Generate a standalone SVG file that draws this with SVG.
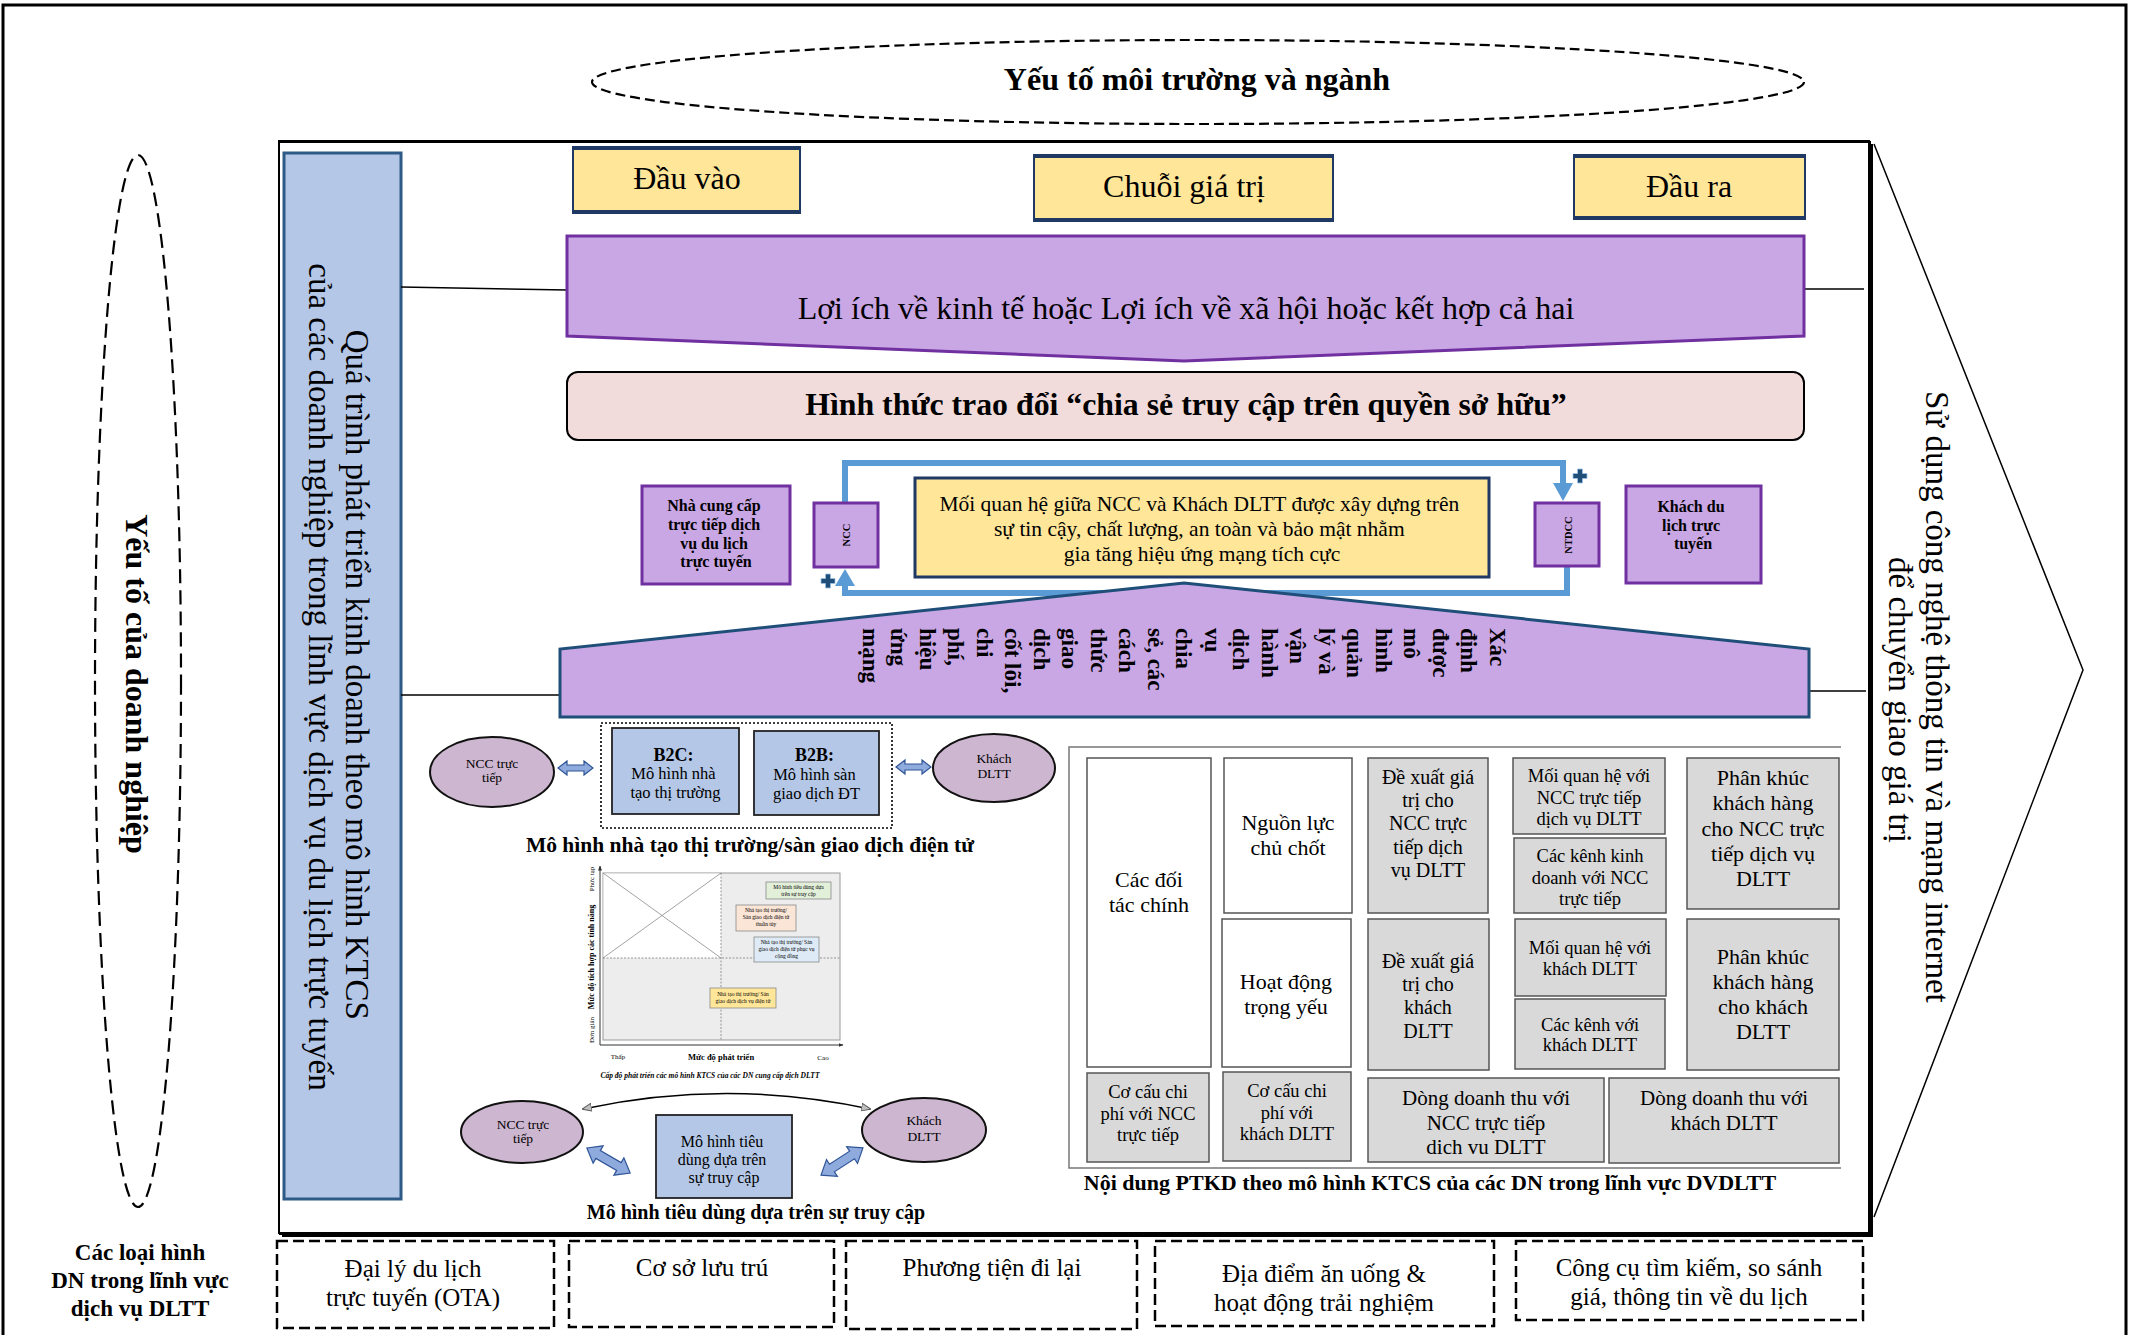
<svg xmlns="http://www.w3.org/2000/svg" width="2134" height="1335" viewBox="0 0 2134 1335">
  <style>
    text { font-family: "Liberation Serif", "Times New Roman", serif; fill: #000; }
    .b { font-weight: bold; }
    .mid { text-anchor: middle; }
    .ybox { fill: #FFE699; stroke: #1F3864; stroke-width: 2; }
    .purple { fill: #C9A6E4; stroke: #7030A0; stroke-width: 3; }
    .blue { fill: #B4C7E7; stroke: #222; stroke-width: 1.8; }
    .mauve { fill: #CDB6CF; stroke: #111; stroke-width: 2; }
    .cellW { fill: #FFFFFF; stroke: #555; stroke-width: 1.5; }
    .cellG { fill: #D9D9D9; stroke: #555; stroke-width: 1.5; }
    .dash { fill: none; stroke: #000; stroke-width: 2.5; stroke-dasharray: 11 5; }
    .loop { fill: none; stroke: #5B9BD5; stroke-width: 6; }
    .arrowFill { fill: #5B9BD5; }
    .dbl { fill: #8FAADC; stroke: #2F5597; stroke-width: 1.2; }
    .plus { fill: #1F4E79; stroke: #9DC3E6; stroke-width: 0.8; }
    .thin { fill: none; stroke: #000; stroke-width: 1.5; }
    .tiny { font-size: 5.5px; }
  </style>
  <defs>
    <path id="dblH" d="M-17.5,0 L-8.5,-7 L-8.5,-3 L8.5,-3 L8.5,-7 L17.5,0 L8.5,7 L8.5,3 L-8.5,3 L-8.5,7 Z"/>
    <path id="dblD" d="M-25,0 L-12,-10 L-12,-4.5 L12,-4.5 L12,-10 L25,0 L12,10 L12,4.5 L-12,4.5 L-12,10 Z"/>
    <path id="plusSign" d="M-2.5,-7 h5 v4.5 h4.5 v5 h-4.5 v4.5 h-5 v-4.5 h-4.5 v-5 h4.5 z"/>
    <marker id="tip" viewBox="0 0 10 10" refX="9" refY="5" markerWidth="6" markerHeight="6" orient="auto-start-reverse">
      <path d="M0,1 L10,5 L0,9 Z" fill="#BFBFBF" stroke="#555" stroke-width="1"/>
    </marker>
    <marker id="axisTip" viewBox="0 0 10 10" refX="9" refY="5" markerWidth="5" markerHeight="5" orient="auto">
      <path d="M0,1 L10,5 L0,9 Z" fill="#333"/>
    </marker>
  </defs>

  <!-- page border -->
  <rect x="3" y="5" width="2123" height="1345" fill="#fff" stroke="#000" stroke-width="3"/>

  <!-- environment factor -->
  <g id="env">
    <ellipse cx="1198" cy="82" rx="606" ry="42" fill="none" stroke="#000" stroke-width="2.2" stroke-dasharray="10 5"/>
    <text x="1197" y="90" class="b mid" font-size="32">Yếu tố môi trường và ngành</text>
  </g>

  <!-- enterprise factor -->
  <g id="firm">
    <ellipse cx="138" cy="681" rx="43" ry="526" fill="none" stroke="#000" stroke-width="2.2" stroke-dasharray="14 7"/>
    <text transform="rotate(90)" class="b mid" font-size="32"><tspan x="684" y="-126">Yếu tố của doanh nghiệp</tspan></text>
  </g>

  <!-- main frame with shadow edge -->
  <g id="frame">
    <rect x="279" y="141" width="1590" height="1092" fill="#fff" stroke="#000" stroke-width="2"/>
    <path d="M279,142 H1870 V1234 H279" fill="none" stroke="#000" stroke-width="2"/>
    <path d="M1872,144 V1236 H282" fill="none" stroke="#000" stroke-width="2"/>
  </g>

  <!-- right chevron: ICT -->
  <g id="ict">
    <polyline points="1874,144 2083,670 1874,1217" class="thin"/>
    <text transform="rotate(90)" class="mid" font-size="33">
      <tspan x="701" y="-1926">Sử dụng công nghệ thông tin và mạng internet</tspan>
      <tspan x="700" y="-1889">để chuyển giao giá trị</tspan>
    </text>
  </g>

  <!-- left process bar -->
  <g id="process">
    <rect x="284" y="153" width="117" height="1046" fill="#B4C7E7" stroke="#2E5A88" stroke-width="3"/>
    <text transform="rotate(90)" class="mid" font-size="33">
      <tspan x="679" y="-346">Quá trình phát triển kinh doanh theo mô hình KTCS</tspan>
      <tspan x="677" y="-309">của các doanh nghiệp trong lĩnh vực dịch vụ du lịch trực tuyến</tspan>
    </text>
  </g>

  <!-- connectors -->
  <g id="connectors">
    <path d="M401,287 L567,290" class="thin"/>
    <path d="M1804,289 H1864" class="thin"/>
    <path d="M401,695 H560" class="thin"/>
    <path d="M1809,691 H1866" class="thin"/>
    <!-- positive network loop -->
    <path d="M845,503 V463 H1563 V484" class="loop"/>
    <polygon points="1553,483 1573,483 1563,501" class="arrowFill"/>
    <path d="M1567,567 V593 H845 V584" class="loop"/>
    <polygon points="835,586 855,586 845,569" class="arrowFill"/>
    <!-- consumption model links -->
    <path d="M583,1109 Q727,1078 870,1109" fill="none" stroke="#000" stroke-width="1.6" marker-start="url(#tip)" marker-end="url(#tip)"/>
    <use href="#dblH" x="575.5" y="768" class="dbl"/>
    <use href="#dblH" x="913.5" y="767" class="dbl"/>
    <use href="#dblD" transform="translate(608.5,1160.5) rotate(30)" class="dbl"/>
    <use href="#dblD" transform="translate(842,1161.5) rotate(-33)" class="dbl"/>
  </g>
  <use href="#plusSign" x="1580" y="476" class="plus"/>
  <use href="#plusSign" x="828" y="581" class="plus"/>

  <!-- top headers -->
  <g id="input">
    <rect x="573" y="147" width="227" height="66" class="ybox"/>
    <path d="M573,148 H800 M573,212 H800" stroke="#1F3864" stroke-width="4"/>
    <text x="687" y="189" class="mid" font-size="32">Đầu vào</text>
  </g>
  <g id="chain">
    <rect x="1034" y="155" width="299" height="66" class="ybox"/>
    <path d="M1034,156 H1333 M1034,220 H1333" stroke="#1F3864" stroke-width="4"/>
    <text x="1184" y="197" class="mid" font-size="32">Chuỗi giá trị</text>
  </g>
  <g id="output">
    <rect x="1574" y="155" width="231" height="64" class="ybox"/>
    <path d="M1574,156 H1805 M1574,218 H1805" stroke="#1F3864" stroke-width="4"/>
    <text x="1689" y="197" class="mid" font-size="32">Đầu ra</text>
  </g>

  <!-- benefit banner -->
  <g id="benefit">
    <polygon points="567,236 1804,236 1804,336 1184,361 567,336" class="purple"/>
    <text x="1186" y="319" class="mid" font-size="32">Lợi ích về kinh tế hoặc Lợi ích về xã hội hoặc kết hợp cả hai</text>
  </g>

  <!-- exchange form -->
  <g id="exchange">
    <rect x="567" y="372" width="1237" height="68" rx="11" fill="#F2DCDB" stroke="#000" stroke-width="2"/>
    <text x="1186" y="415" class="b mid" font-size="31.8">Hình thức trao đổi “chia sẻ truy cập trên quyền sở hữu”</text>
  </g>

  <!-- supplier / customer relation -->
  <g id="supplier">
    <rect x="642" y="486" width="148" height="98" class="purple"/>
    <text class="b mid" font-size="16">
      <tspan x="716" y="511">Nhà cung cấp</tspan>
      <tspan x="716" y="530">trực tiếp dịch</tspan>
      <tspan x="716" y="549">vụ du lịch</tspan>
      <tspan x="716" y="567">trực tuyến</tspan>
    </text>
  </g>
  <g id="ncc">
    <rect x="814" y="503" width="64" height="64" class="purple" stroke-width="2.5"/>
    <text transform="translate(849.5,535) rotate(-90)" class="b mid" font-size="10.5">NCC</text>
  </g>
  <g id="relation">
    <rect x="915" y="478" width="574" height="99" fill="#FFE699" stroke="#1F3864" stroke-width="3"/>
    <text class="mid" font-size="21.5">
      <tspan x="1202" y="511">Mối quan hệ giữa NCC và Khách DLTT được xây dựng trên</tspan>
      <tspan x="1202" y="536">sự tin cậy, chất lượng, an toàn và bảo mật nhằm</tspan>
      <tspan x="1202" y="561">gia tăng hiệu ứng mạng tích cực</tspan>
    </text>
  </g>
  <g id="ntdcc">
    <rect x="1535" y="503" width="64" height="63" class="purple" stroke-width="2.5"/>
    <text transform="translate(1571.5,535) rotate(-90)" class="b mid" font-size="10.5">NTDCC</text>
  </g>
  <g id="customer">
    <rect x="1626" y="486" width="135" height="97" class="purple"/>
    <text class="b mid" font-size="16">
      <tspan x="1693" y="512">Khách du</tspan>
      <tspan x="1693" y="531">lịch trực</tspan>
      <tspan x="1693" y="549">tuyến</tspan>
    </text>
  </g>

  <!-- core definition pentagon -->
  <g id="definition">
    <polygon points="1184,583 1809,649 1809,717 560,717 560,649" fill="#C9A6E4" stroke="#1F4E79" stroke-width="3"/>
    <text transform="rotate(90)" class="b" font-size="23">
      <tspan x="628" y="-1490">Xác</tspan>
      <tspan x="628" y="-1461">định</tspan>
      <tspan x="628" y="-1433">được</tspan>
      <tspan x="628" y="-1404">mô</tspan>
      <tspan x="628" y="-1376">hình</tspan>
      <tspan x="628" y="-1347">quản</tspan>
      <tspan x="628" y="-1319">lý và</tspan>
      <tspan x="628" y="-1290">vận</tspan>
      <tspan x="628" y="-1262">hành</tspan>
      <tspan x="628" y="-1233">dịch</tspan>
      <tspan x="628" y="-1205">vụ</tspan>
      <tspan x="628" y="-1176">chia</tspan>
      <tspan x="628" y="-1148">sẻ, các</tspan>
      <tspan x="628" y="-1119">cách</tspan>
      <tspan x="628" y="-1091">thức</tspan>
      <tspan x="628" y="-1062">giao</tspan>
      <tspan x="628" y="-1034">dịch</tspan>
      <tspan x="628" y="-1005">cốt lõi,</tspan>
      <tspan x="628" y="-977">chi</tspan>
      <tspan x="628" y="-948">phí,</tspan>
      <tspan x="628" y="-920">hiệu</tspan>
      <tspan x="628" y="-891">ứng</tspan>
      <tspan x="628" y="-863">mạng</tspan>
    </text>
  </g>

  <!-- marketplace model -->
  <g id="ncc-direct-1">
    <ellipse cx="492" cy="772" rx="62" ry="35" class="mauve"/>
    <text class="mid" font-size="13.5"><tspan x="492" y="768">NCC trực</tspan><tspan x="492" y="782">tiếp</tspan></text>
  </g>
  <rect x="601" y="723" width="291" height="105" fill="none" stroke="#000" stroke-width="1.6" stroke-dasharray="2 2"/>
  <g id="b2c">
    <rect x="612" y="728" width="127" height="86" class="blue"/>
    <text class="mid" font-size="16.5">
      <tspan x="675.5" y="761" class="b" font-size="18">B2C:</tspan>
      <tspan x="675.5" y="779">Mô hình nhà</tspan>
      <tspan x="675.5" y="798">tạo thị trường</tspan>
    </text>
  </g>
  <g id="b2b">
    <rect x="754" y="731" width="125" height="84" class="blue"/>
    <text class="mid" font-size="16.5">
      <tspan x="816.5" y="761" class="b" font-size="18">B2B:</tspan>
      <tspan x="816.5" y="780">Mô hình sàn</tspan>
      <tspan x="816.5" y="799">giao dịch ĐT</tspan>
    </text>
  </g>
  <g id="guest-1">
    <ellipse cx="994" cy="768" rx="61" ry="34" class="mauve"/>
    <text class="mid" font-size="13.5"><tspan x="994" y="763">Khách</tspan><tspan x="994" y="778">DLTT</tspan></text>
  </g>
  <text x="750" y="852" class="b mid" font-size="21.5">Mô hình nhà tạo thị trường/sàn giao dịch điện tử</text>

  <!-- development level chart -->
  <g id="chart">
    <rect x="603" y="873" width="237" height="167" fill="#EDEDED" stroke="#9A9A9A" stroke-width="1"/>
    <rect x="603.5" y="873.5" width="117.5" height="84.5" fill="#FFFFFF"/>
    <path d="M721,873 V1040 M603,958 H840" stroke="#8A8A8A" stroke-width="0.9" stroke-dasharray="2 1.5"/>
    <path d="M603,873 L721,958 M603,958 L721,873" stroke="#8A8A8A" stroke-width="0.8"/>
    <path d="M600,1045 V866" stroke="#333" stroke-width="1" marker-end="url(#axisTip)"/>
    <path d="M600,1045 H843" stroke="#333" stroke-width="1" marker-end="url(#axisTip)"/>
    <rect x="766" y="882" width="65" height="17" fill="#E2EFD9" stroke="#8A8A8A" stroke-width="0.8"/>
    <text class="mid tiny"><tspan x="798.5" y="889">Mô hình tiêu dùng dựa</tspan><tspan x="798.5" y="895.5">trên sự truy cập</tspan></text>
    <rect x="736" y="905" width="60" height="26" fill="#FBE5D6" stroke="#8A8A8A" stroke-width="0.8"/>
    <text class="mid tiny"><tspan x="766" y="912">Nhà tạo thị trường/</tspan><tspan x="766" y="919">Sàn giao dịch điện tử</tspan><tspan x="766" y="926">thuần túy</tspan></text>
    <rect x="754" y="937" width="65" height="25" fill="#DEEBF7" stroke="#8A8A8A" stroke-width="0.8"/>
    <text class="mid tiny"><tspan x="786.5" y="944">Nhà tạo thị trường/ Sàn</tspan><tspan x="786.5" y="951">giao dịch điện tử phục vụ</tspan><tspan x="786.5" y="958">cộng đồng</tspan></text>
    <rect x="710" y="988" width="66" height="20" fill="#FFE699" stroke="#8A8A8A" stroke-width="0.8"/>
    <text class="mid tiny"><tspan x="743" y="996">Nhà tạo thị trường/ Sàn</tspan><tspan x="743" y="1003">giao dịch dịch vụ điện tử</tspan></text>
    <text transform="rotate(-90)" class="mid" font-size="7"><tspan x="-879" y="594">Phức tạp</tspan><tspan x="-1030" y="594">Đơn giản</tspan></text>
    <text transform="rotate(-90)" class="b mid" font-size="8"><tspan x="-957" y="594">Mức độ tích hợp các tính năng</tspan></text>
    <text x="618" y="1059" class="mid" font-size="7">Thấp</text>
    <text x="721" y="1060" class="b mid" font-size="8.5">Mức độ phát triển</text>
    <text x="823" y="1060" class="mid" font-size="7">Cao</text>
    <text x="710" y="1078" class="b mid" font-size="7.5" font-style="italic">Cấp độ phát triển các mô hình KTCS của các DN cung cấp dịch DLTT</text>
  </g>

  <!-- access-based consumption model -->
  <g id="ncc-direct-2">
    <ellipse cx="522" cy="1132" rx="61" ry="31" class="mauve"/>
    <text class="mid" font-size="13.5"><tspan x="523" y="1129">NCC trực</tspan><tspan x="523" y="1143">tiếp</tspan></text>
  </g>
  <g id="access">
    <rect x="656" y="1115" width="136" height="83" class="blue"/>
    <text class="mid" font-size="16">
      <tspan x="724" y="1147">Mô hình tiêu</tspan>
      <tspan x="724" y="1165">dùng dựa trên</tspan>
      <tspan x="724" y="1183">sự truy cập</tspan>
    </text>
  </g>
  <g id="guest-2">
    <ellipse cx="924" cy="1130" rx="62" ry="32" class="mauve"/>
    <text class="mid" font-size="13.5"><tspan x="924" y="1125">Khách</tspan><tspan x="924" y="1141">DLTT</tspan></text>
  </g>
  <text x="756" y="1219" class="b mid" font-size="20">Mô hình tiêu dùng dựa trên sự truy cập</text>

  <!-- business model canvas -->
  <g id="canvas">
    <path d="M1841,747 H1069 V1168 H1841" fill="none" stroke="#777" stroke-width="1.5"/>
    <g id="partners">
      <rect x="1087" y="758" width="124" height="309" class="cellW"/>
      <text class="mid" font-size="22"><tspan x="1149" y="887">Các đối</tspan><tspan x="1149" y="912">tác chính</tspan></text>
    </g>
    <g id="resources">
      <rect x="1224" y="758" width="128" height="155" class="cellW"/>
      <text class="mid" font-size="22"><tspan x="1288" y="830">Nguồn lực</tspan><tspan x="1288" y="855">chủ chốt</tspan></text>
    </g>
    <g id="activities">
      <rect x="1222" y="919" width="129" height="148" class="cellW"/>
      <text class="mid" font-size="22"><tspan x="1286" y="989">Hoạt động</tspan><tspan x="1286" y="1014">trọng yếu</tspan></text>
    </g>
    <g id="value-ncc">
      <rect x="1368" y="758" width="120" height="155" class="cellG"/>
      <text class="mid" font-size="20">
        <tspan x="1428" y="784">Đề xuất giá</tspan><tspan x="1428" y="807">trị cho</tspan><tspan x="1428" y="830">NCC trực</tspan><tspan x="1428" y="854">tiếp dịch</tspan><tspan x="1428" y="877">vụ DLTT</tspan>
      </text>
    </g>
    <g id="value-guest">
      <rect x="1368" y="919" width="121" height="151" class="cellG"/>
      <text class="mid" font-size="20">
        <tspan x="1428" y="968">Đề xuất giá</tspan><tspan x="1428" y="991">trị cho</tspan><tspan x="1428" y="1014">khách</tspan><tspan x="1428" y="1038">DLTT</tspan>
      </text>
    </g>
    <g id="rel-ncc">
      <rect x="1513" y="758" width="152" height="76" class="cellG"/>
      <text class="mid" font-size="18.5"><tspan x="1589" y="782">Mối quan hệ với</tspan><tspan x="1589" y="804">NCC trực tiếp</tspan><tspan x="1589" y="825">dịch vụ DLTT</tspan></text>
    </g>
    <g id="chan-ncc">
      <rect x="1514" y="838" width="152" height="75" class="cellG"/>
      <text class="mid" font-size="18.5"><tspan x="1590" y="862">Các kênh kinh</tspan><tspan x="1590" y="884">doanh với NCC</tspan><tspan x="1590" y="905">trực tiếp</tspan></text>
    </g>
    <g id="rel-guest">
      <rect x="1515" y="919" width="151" height="77" class="cellG"/>
      <text class="mid" font-size="18.5"><tspan x="1590" y="954">Mối quan hệ với</tspan><tspan x="1590" y="975">khách DLTT</tspan></text>
    </g>
    <g id="chan-guest">
      <rect x="1515" y="999" width="150" height="70" class="cellG"/>
      <text class="mid" font-size="18.5"><tspan x="1590" y="1031">Các kênh với</tspan><tspan x="1590" y="1051">khách DLTT</tspan></text>
    </g>
    <g id="seg-ncc">
      <rect x="1687" y="758" width="152" height="151" class="cellG"/>
      <text class="mid" font-size="22">
        <tspan x="1763" y="785">Phân khúc</tspan><tspan x="1763" y="810">khách hàng</tspan><tspan x="1763" y="836">cho NCC trực</tspan><tspan x="1763" y="861">tiếp dịch vụ</tspan><tspan x="1763" y="886">DLTT</tspan>
      </text>
    </g>
    <g id="seg-guest">
      <rect x="1687" y="919" width="152" height="151" class="cellG"/>
      <text class="mid" font-size="22">
        <tspan x="1763" y="964">Phân khúc</tspan><tspan x="1763" y="989">khách hàng</tspan><tspan x="1763" y="1014">cho khách</tspan><tspan x="1763" y="1039">DLTT</tspan>
      </text>
    </g>
    <g id="cost-ncc">
      <rect x="1087" y="1073" width="122" height="89" class="cellG"/>
      <text class="mid" font-size="18.5"><tspan x="1148" y="1098">Cơ cấu chi</tspan><tspan x="1148" y="1120">phí với NCC</tspan><tspan x="1148" y="1141">trực tiếp</tspan></text>
    </g>
    <g id="cost-guest">
      <rect x="1223" y="1072" width="128" height="89" class="cellG"/>
      <text class="mid" font-size="18.5"><tspan x="1287" y="1097">Cơ cấu chi</tspan><tspan x="1287" y="1119">phí với</tspan><tspan x="1287" y="1140">khách DLTT</tspan></text>
    </g>
    <g id="rev-ncc">
      <rect x="1368" y="1078" width="236" height="84" class="cellG"/>
      <text class="mid" font-size="21"><tspan x="1486" y="1105">Dòng doanh thu với</tspan><tspan x="1486" y="1130">NCC trực tiếp</tspan><tspan x="1486" y="1154">dich vu DLTT</tspan></text>
    </g>
    <g id="rev-guest">
      <rect x="1609" y="1078" width="230" height="85" class="cellG"/>
      <text class="mid" font-size="21"><tspan x="1724" y="1105">Dòng doanh thu với</tspan><tspan x="1724" y="1130">khách DLTT</tspan></text>
    </g>
    <text x="1430" y="1190" class="b mid" font-size="22">Nội dung PTKD theo mô hình KTCS của các DN trong lĩnh vực DVDLTT</text>
  </g>

  <!-- business types -->
  <g id="types">
    <text class="b mid" font-size="23"><tspan x="140" y="1260">Các loại hình</tspan><tspan x="140" y="1288">DN trong lĩnh vực</tspan><tspan x="140" y="1316">dịch vụ DLTT</tspan></text>
  </g>
  <g id="ota">
    <rect x="277" y="1241" width="277" height="87" class="dash"/>
    <text class="mid" font-size="25"><tspan x="413" y="1277">Đại lý du lịch</tspan><tspan x="413" y="1306">trực tuyến (OTA)</tspan></text>
  </g>
  <g id="lodging">
    <rect x="569" y="1241" width="265" height="86" class="dash"/>
    <text x="702" y="1276" class="mid" font-size="25">Cơ sở lưu trú</text>
  </g>
  <g id="transport">
    <rect x="846" y="1241" width="291" height="88" class="dash"/>
    <text x="992" y="1276" class="mid" font-size="25">Phương tiện đi lại</text>
  </g>
  <g id="dining">
    <rect x="1155" y="1241" width="339" height="85" class="dash"/>
    <text class="mid" font-size="25"><tspan x="1324" y="1282">Địa điểm ăn uống &amp;</tspan><tspan x="1324" y="1311">hoạt động trải nghiệm</tspan></text>
  </g>
  <g id="search">
    <rect x="1516" y="1241" width="347" height="79" class="dash"/>
    <text class="mid" font-size="25"><tspan x="1689" y="1276">Công cụ tìm kiếm, so sánh</tspan><tspan x="1689" y="1305">giá, thông tin về du lịch</tspan></text>
  </g>
</svg>
